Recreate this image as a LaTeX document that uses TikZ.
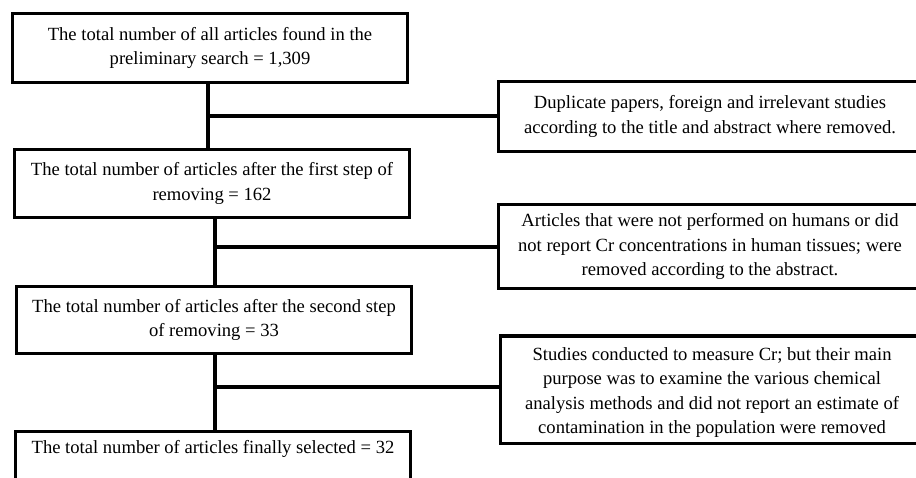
\documentclass[tikz,border=0pt]{standalone}
\usepackage{fontspec}
\setmainfont{Liberation Serif}
\usepackage{tikz}

\begin{document}
\begin{tikzpicture}[x=1pt, y=-1pt,
  box/.style = {draw, line width=3.2pt, align=center, minimum width=395pt, inner sep=0pt, font=\fontsize{18.6}{24.5}\selectfont},
  sidebox/.style = {box, minimum width=423pt},
  link/.style = {line width=4pt}]
\useasboundingbox (0,0) rectangle (916,478);
\clip (0,0) rectangle (916,478);

\node[box, minimum height=69pt] (total) at (210,48) {The total number of all articles found in the\\preliminary search = 1,309};
\node[box, minimum height=68pt] (first) at (212,183.5) {The total number of articles after the first step of\\removing = 162};
\node[box, minimum height=67pt] (second) at (214,320) {The total number of articles after the second step\\of removing = 33};
\node[box, anchor=north, inner ysep=10pt, text height=12.5pt, text depth=50pt] (final) at (213,429.5) {The total number of articles finally selected = 32};

\node[sidebox, minimum height=70pt] (dup) at (710,116.5) {Duplicate papers, foreign and irrelevant studies\\according to the title and abstract where removed.};
\node[sidebox, minimum height=84pt] (human) at (710,246.5) {Articles that were not performed on humans or did\\not report Cr concentrations in human tissues; were\\removed according to the abstract.};
\node[sidebox, anchor=north, text height=97.5pt, text depth=9.5pt] (method) at (712,334.5) {Studies conducted to measure Cr; but their main\\purpose was to examine the various chemical\\analysis methods and did not report an estimate of\\contamination in the population were removed};

\coordinate (j1) at (208,116);
\coordinate (j2) at (215,247);
\coordinate (j3) at (215,387);

\draw[link] (total.south -| j1) -- (first.north -| j1);
\draw[link] (j1) -- (j1 -| dup.west);
\draw[link] (first.south -| j2) -- (second.north -| j2);
\draw[link] (j2) -- (j2 -| human.west);
\draw[link] (second.south -| j3) -- (final.north -| j3);
\draw[link] (j3) -- (j3 -| method.west);

\end{tikzpicture}
\end{document}
